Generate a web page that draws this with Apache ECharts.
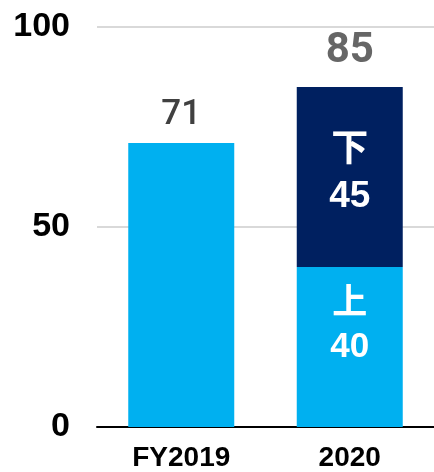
<!DOCTYPE html>
<html>
<head>
<meta charset="utf-8">
<script src="https://cdn.jsdelivr.net/npm/echarts@6/dist/echarts.min.js"></script>
<style>
  html, body { margin: 0; padding: 0; background: #fff; }
  #chart { width: 434px; height: 472px; }
</style>
</head>
<body>
<div id="chart"></div>
<script>
// Fiscal-year categories and values
const categories = ['FY2019', '2020'];
const lowerHalf = [71, 40];      // 上 (first half; FY2019 shown as full year)
const upperHalf = [null, 45];    // 下 (second half)
const totals = [null, 85];
const yTicks = [0, 50, 100];

const AXIS_FONT = '"Liberation Sans", Arial, "Noto Sans CJK JP", sans-serif';
const VALUE_FONT = 'Roboto, "Liberation Sans", sans-serif';
const INNER_FONT = '"Liberation Sans", "Noto Sans CJK JP", sans-serif';
const LIGHT = '#00B0F0';
const NAVY = '#002060';

const chart = echarts.init(document.getElementById('chart'));

const lowerData = lowerHalf.map((v, i) => {
  if (i === 0) {
    return {
      value: v,
      label: {
        show: true, position: 'top', distance: 10,
        formatter: String(v), color: '#404040',
        fontSize: 35, fontWeight: 500, fontFamily: VALUE_FONT
      }
    };
  }
  return {
    value: v,
    label: {
      show: true, position: 'inside', offset: [0, -21],
      formatter: '上\n' + v, color: '#fff', lineHeight: 43,
      fontSize: 35, fontWeight: 'bold', fontFamily: INNER_FONT
    }
  };
});

chart.setOption({
  animation: false,
  grid: { left: 97, right: 0, top: 27, bottom: 43, containLabel: false },
  xAxis: {
    type: 'category',
    data: categories,
    axisLine: { lineStyle: { color: '#000', width: 2 } },
    axisTick: { show: false },
    axisLabel: {
      color: '#000', fontSize: 28, fontWeight: 'bold', fontFamily: AXIS_FONT, margin: 17
    }
  },
  yAxis: {
    type: 'value',
    min: yTicks[0], max: yTicks[yTicks.length - 1], interval: 50,
    axisLine: { show: false },
    axisTick: { show: false },
    splitLine: { lineStyle: { color: '#D9D9D9', width: 2 } },
    axisLabel: {
      color: '#000', fontSize: 34, fontWeight: 'bold', fontFamily: AXIS_FONT, margin: 27
    }
  },
  series: [
    {
      name: '上', type: 'bar', stack: 'fy', barWidth: 106,
      itemStyle: { color: LIGHT },
      data: lowerData
    },
    {
      name: '下', type: 'bar', stack: 'fy', barWidth: 106,
      itemStyle: { color: NAVY },
      label: {
        show: true, position: 'inside', offset: [0, -3],
        formatter: p => '下\n' + p.value, color: '#fff', lineHeight: 46,
        fontSize: 37, fontWeight: 'bold', fontFamily: INNER_FONT
      },
      data: upperHalf
    },
    {
      name: 'total', type: 'scatter', symbolSize: 0,
      label: {
        show: true, position: 'top', distance: 14,
        formatter: p => String(p.value), color: '#404040',
        fontSize: 42, fontWeight: 'bold', fontFamily: VALUE_FONT
      },
      data: totals
    }
  ]
});
</script>
</body>
</html>
